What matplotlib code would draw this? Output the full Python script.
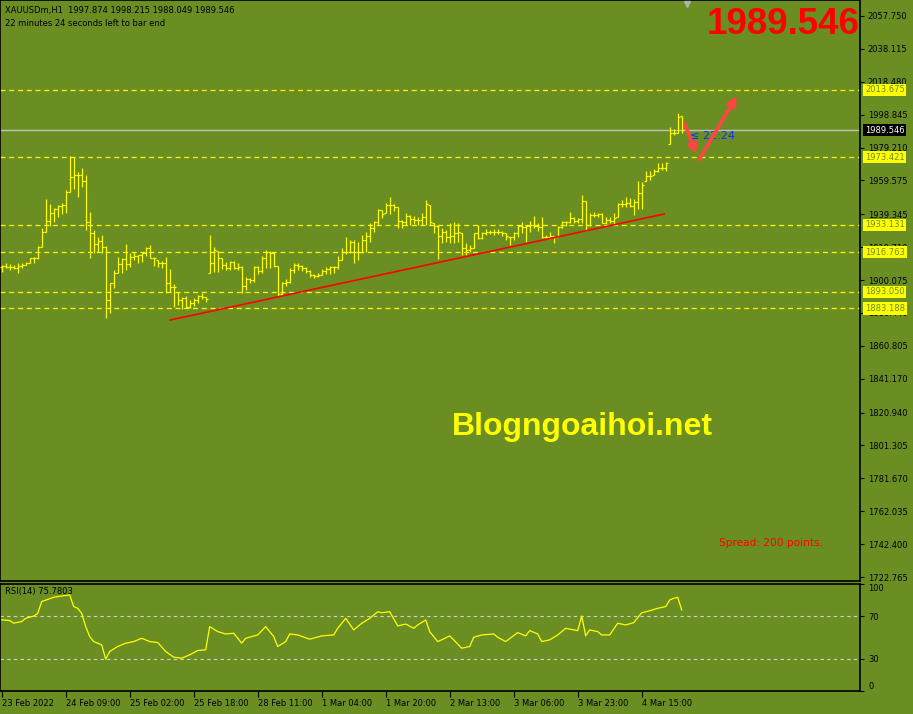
import numpy as np
import matplotlib
matplotlib.use("Agg")
import matplotlib.pyplot as plt
import matplotlib.transforms as mtransforms
from matplotlib.lines import Line2D

# ---------------- data ----------------
symbol_header = "XAUUSDm,H1  1997.874 1998.215 1988.049 1989.546"
timer_header = "22 minutes 24 seconds left to bar end"

first_open = 1908.0
highs = [1909.1, 1910.1, 1909.5, 1909.1, 1910.1, 1910.1, 1911.0, 1913.1, 1913.7, 1920.4,
         1931.0, 1948.3, 1945.5, 1942.9, 1944.9, 1945.9, 1953.9, 1974.2, 1973.4, 1964.8,
         1966.8, 1962.8, 1940.9, 1930.0, 1926.0, 1927.0, 1920.4, 1898.1, 1906.1, 1914.0,
         1913.1, 1921.6, 1916.1, 1917.0, 1915.0, 1916.4, 1920.0, 1921.0, 1914.0, 1912.1,
         1911.6, 1914.0, 1906.5, 1897.7, 1893.1, 1890.1, 1890.6, 1888.2, 1889.2, 1891.2,
         1892.5, 1890.1, 1927.0, 1920.0, 1917.6, 1913.1, 1911.0, 1911.6, 1911.6, 1910.1,
         1908.5, 1902.1, 1901.5, 1908.5, 1908.5, 1914.4, 1918.0, 1917.6, 1916.8, 1908.5,
         1899.1, 1900.5, 1907.1, 1910.4, 1910.4, 1909.1, 1907.7, 1906.1, 1903.7, 1904.5,
         1906.5, 1907.7, 1908.5, 1908.5, 1914.4, 1919.0, 1925.6, 1924.0, 1924.0, 1923.0,
         1927.0, 1929.0, 1934.3, 1935.5, 1942.3, 1941.9, 1946.3, 1949.5, 1945.5, 1943.5,
         1935.9, 1939.9, 1938.9, 1938.3, 1937.6, 1939.9, 1947.9, 1944.9, 1934.0, 1933.0,
         1931.0, 1930.0, 1934.3, 1934.9, 1934.3, 1928.0, 1922.0, 1921.0, 1928.4, 1933.0,
         1929.0, 1930.4, 1930.0, 1930.4, 1930.4, 1929.5, 1928.0, 1926.0, 1929.0, 1932.4,
         1934.9, 1933.0, 1935.5, 1938.3, 1934.3, 1937.6, 1927.0, 1929.0, 1926.4, 1932.4,
         1935.5, 1935.5, 1940.9, 1937.9, 1936.9, 1950.9, 1947.5, 1939.9, 1940.9, 1940.3,
         1939.9, 1937.9, 1937.9, 1939.9, 1945.9, 1947.9, 1949.5, 1948.9, 1948.3, 1959.4,
         1958.8, 1965.4, 1965.4, 1966.2, 1969.8, 1970.2, 1970.7, 1991.3, 1990.1, 2000.0,
         1998.215]
lows = [1905.1, 1907.1, 1906.1, 1906.5, 1904.1, 1907.1, 1909.1, 1910.1, 1910.4, 1912.5,
        1920.0, 1929.0, 1932.4, 1934.9, 1937.6, 1939.5, 1939.9, 1952.8, 1954.3, 1949.9,
        1955.8, 1930.0, 1913.1, 1916.1, 1916.7, 1916.4, 1877.6, 1880.2, 1895.2, 1904.1,
        1904.1, 1906.1, 1908.1, 1912.1, 1910.1, 1911.0, 1914.4, 1913.1, 1908.5, 1908.1,
        1907.1, 1892.5, 1893.1, 1884.2, 1885.2, 1882.6, 1883.2, 1883.2, 1884.6, 1886.2,
        1888.6, 1887.2, 1904.1, 1905.1, 1905.1, 1906.5, 1906.1, 1906.1, 1906.5, 1906.1,
        1892.5, 1894.1, 1898.1, 1899.1, 1903.7, 1904.1, 1907.5, 1907.1, 1907.9, 1890.6,
        1890.6, 1896.5, 1898.1, 1904.5, 1906.1, 1905.7, 1904.5, 1902.1, 1901.1, 1901.7,
        1903.1, 1903.7, 1903.7, 1904.5, 1906.5, 1912.1, 1915.6, 1916.4, 1910.4, 1912.1,
        1916.4, 1917.0, 1923.0, 1929.0, 1933.0, 1937.0, 1939.9, 1939.5, 1941.5, 1931.0,
        1931.0, 1933.0, 1933.0, 1933.5, 1933.0, 1933.0, 1933.0, 1933.0, 1928.0, 1912.5,
        1922.0, 1923.0, 1922.0, 1922.0, 1923.0, 1915.0, 1915.0, 1917.0, 1919.0, 1924.4,
        1924.4, 1927.0, 1927.6, 1927.0, 1927.6, 1926.4, 1924.0, 1921.0, 1924.0, 1925.6,
        1928.0, 1923.0, 1929.0, 1931.0, 1929.5, 1925.0, 1924.4, 1924.4, 1922.4, 1925.6,
        1931.0, 1932.4, 1934.3, 1934.3, 1934.3, 1934.3, 1929.5, 1932.4, 1937.6, 1937.6,
        1934.0, 1933.5, 1934.3, 1933.5, 1937.6, 1943.5, 1943.5, 1943.5, 1938.9, 1942.3,
        1942.3, 1959.4, 1959.8, 1962.8, 1964.8, 1965.8, 1965.4, 1981.3, 1986.7, 1987.7,
        1988.049]
closes = [1908.5, 1908.1, 1908.1, 1907.1, 1908.6, 1909.1, 1910.4, 1913.1, 1913.1, 1920.0,
          1928.6, 1935.3, 1939.9, 1942.5, 1944.5, 1944.9, 1952.8, 1961.4, 1962.8, 1962.8,
          1959.4, 1934.9, 1928.4, 1921.6, 1923.6, 1920.0, 1888.2, 1898.1, 1904.5, 1909.7,
          1912.5, 1909.7, 1914.0, 1914.4, 1915.0, 1916.4, 1919.0, 1913.1, 1913.1, 1910.4,
          1910.1, 1898.5, 1896.1, 1895.7, 1888.2, 1889.2, 1884.2, 1886.6, 1888.2, 1890.6,
          1890.1, 1888.6, 1910.4, 1918.0, 1913.1, 1909.1, 1907.1, 1911.0, 1907.1, 1907.7,
          1896.5, 1900.5, 1900.1, 1907.7, 1905.7, 1913.1, 1917.0, 1916.2, 1908.5, 1891.8,
          1898.1, 1899.1, 1906.1, 1909.1, 1908.5, 1907.1, 1905.7, 1903.1, 1902.5, 1903.1,
          1905.7, 1906.5, 1907.7, 1907.7, 1912.1, 1917.0, 1916.8, 1923.0, 1917.0, 1917.0,
          1924.0, 1926.4, 1931.0, 1934.9, 1941.9, 1939.5, 1944.9, 1944.9, 1943.5, 1935.5,
          1934.9, 1938.3, 1936.4, 1935.9, 1935.9, 1937.9, 1945.5, 1934.9, 1932.4, 1926.4,
          1929.0, 1925.6, 1926.4, 1928.0, 1929.0, 1919.0, 1918.0, 1919.0, 1928.0, 1925.0,
          1928.4, 1929.0, 1929.0, 1929.0, 1929.0, 1928.4, 1926.4, 1925.6, 1928.4, 1932.4,
          1932.0, 1932.4, 1933.0, 1932.4, 1932.0, 1926.0, 1925.6, 1926.4, 1925.6, 1932.0,
          1934.9, 1934.9, 1936.9, 1935.5, 1936.4, 1947.5, 1932.9, 1938.9, 1938.9, 1939.5,
          1934.3, 1935.9, 1935.5, 1936.9, 1945.5, 1945.5, 1946.3, 1944.3, 1946.9, 1951.9,
          1956.8, 1962.2, 1962.2, 1965.4, 1966.8, 1966.8, 1970.2, 1988.1, 1987.7, 1997.6,
          1989.546]
last_open = 1997.874
last_price = 1989.546

level_prices = [2013.675, 1973.421, 1933.131, 1916.763, 1893.050, 1883.188]

price_ticks = [2057.750, 2038.115, 2018.480, 1998.845, 1979.210, 1959.575, 1939.345,
               1919.710, 1900.075, 1880.440, 1860.805, 1841.170, 1820.940, 1801.305,
               1781.670, 1762.035, 1742.400, 1722.765]

trend_bars = [42.1, 165.6]
trend_prices = [1876.2, 1939.5]

arrow_down = [(170.8, 1993.3), (173.6, 1975.3)]
arrow_up = [(174.3, 1971.8), (183.8, 2010.0)]

rsi_bars = [0, 2, 3, 5, 6, 8, 9, 10, 13, 15, 17, 18, 19, 20, 21, 22, 23, 24, 25, 26,
            27, 29, 31, 33, 35, 37, 39, 41, 43, 45, 47, 49, 51, 52, 54, 56, 58, 60, 61, 64,
            66, 68, 69, 71, 72, 74, 77, 80, 83, 84, 86, 88, 90, 92, 94, 95, 97, 99, 101, 103,
            104, 106, 107, 109, 110, 112, 113, 115, 117, 118, 120, 123, 124, 126, 129, 131, 132, 134, 135, 137,
            139, 141, 144, 145, 146, 147, 149, 150, 152, 154, 156, 158, 160, 162, 164, 166, 167, 168, 169, 170]
rsi_vals = [66.5, 65.9, 63.4, 64.9, 68.0, 70.0, 72.5, 83.6, 87.6, 88.8, 89.8, 78.9, 77.3, 72.5, 60.2, 50.9, 46.2, 44.7, 43.1, 29.8,
            36.9, 41.6, 44.7, 46.2, 49.3, 46.2, 45.3, 36.9, 31.6, 30.7, 33.8, 37.8, 38.5, 60.2, 55.5, 53.3, 54.0, 44.7, 49.3, 52.4,
            60.2, 50.9, 41.6, 46.2, 53.3, 52.4, 48.4, 51.5, 52.4, 58.6, 67.9, 57.1, 63.3, 67.9, 74.1, 73.1, 74.1, 60.8, 62.6, 58.6,
            61.7, 66.4, 55.5, 46.2, 47.8, 51.5, 47.8, 40.0, 41.6, 50.2, 52.4, 53.3, 50.2, 46.2, 54.6, 51.5, 56.4, 53.3, 46.2, 47.8,
            52.4, 58.6, 56.4, 70.0, 51.5, 57.1, 55.5, 52.4, 52.4, 63.3, 61.7, 63.9, 73.1, 75.0, 77.3, 78.9, 85.1, 86.6, 87.6, 75.78]
rsi_levels = [30, 70]
rsi_ticks = [100, 70, 30, 0]

time_tick_bars = [0, 16, 32, 48, 64, 80, 96, 112, 128, 144, 160]
time_labels = ["23 Feb 2022", "24 Feb 09:00", "25 Feb 02:00", "25 Feb 18:00", "28 Feb 11:00",
               "1 Mar 04:00", "1 Mar 20:00", "2 Mar 13:00", "3 Mar 06:00", "3 Mar 23:00",
               "4 Mar 15:00"]

assert len(highs) == len(lows) == len(closes)
assert len(rsi_bars) == len(rsi_vals)

# ---------------- style ----------------
BG = "#6B8E23"
YEL = "#FFFF00"
W, H = 913, 714
FONT = "DejaVu Sans"
FS = 6.0
plt.rcParams["font.family"] = [FONT]

def fx(px):
    return px / W

def fy(py):
    return 1 - py / H

fig = plt.figure(figsize=(W / 100, H / 100), dpi=100, facecolor=BG)

# main price pane (pixel rows 0..581)
ax = fig.add_axes([0, fy(581), 860 / W, 581 / H])
ax.set_facecolor(BG)
PX_PER_PRICE = 0.5971
top_price = 2067.3
ax.set_ylim(top_price - 581 * PX_PER_PRICE, top_price)
ax.set_xlim(-0.425, 214.575)
for s in ax.spines.values():
    s.set_color("black")
    s.set_linewidth(1.2)
ax.xaxis.set_visible(False)
ax.yaxis.tick_right()
ax.set_yticks(price_ticks)
ax.set_yticklabels([f"{p:.3f}" for p in price_ticks], fontsize=FS, color="black")
ax.tick_params(axis="y", direction="out", length=3, width=0.8, pad=2.5, colors="black")

n = len(closes)
x = np.arange(n)
opens = [first_open] + [min(max(closes[i - 1], lows[i]), highs[i]) for i in range(1, n)]
opens[-1] = last_open
BLW = 0.85
ax.vlines(x, lows, highs, color=YEL, lw=BLW, zorder=3)
ax.hlines(opens, x - 0.45, x, color=YEL, lw=BLW, zorder=3)
ax.hlines(closes, x, x + 0.45, color=YEL, lw=BLW, zorder=3)

blend = mtransforms.blended_transform_factory(ax.transAxes, ax.transData)
for lv in level_prices:
    ax.axhline(lv, color=YEL, lw=0.9, ls=(0, (4, 3)), zorder=2)
    ax.text(1 + 5 / 860, lv, f"{lv:.3f}", transform=blend, va="center", ha="left",
            fontsize=FS, color="#6B8E23", clip_on=False, zorder=6,
            bbox=dict(boxstyle="square,pad=0.2", fc=YEL, ec="none"))

ax.axhline(last_price, color="#C0C0C0", lw=1.0, zorder=2)
ax.text(1 + 5 / 860, last_price, f"{last_price:.3f}", transform=blend, va="center", ha="left",
        fontsize=FS, color="white", clip_on=False, zorder=6,
        bbox=dict(boxstyle="square,pad=0.2", fc="black", ec="none"))

ax.plot(trend_bars, trend_prices, color="#FF0000", lw=1.2, zorder=4)

ax.text(172.0, 1986.3, "\u2264 22:24", color="#1030FF", fontsize=8, va="center", ha="left", zorder=4)
for (a, b) in (arrow_down, arrow_up):
    ax.annotate("", xy=b, xytext=a, zorder=5,
                arrowprops=dict(arrowstyle="-|>", color="#FF4545", lw=2.6, mutation_scale=13,
                                shrinkA=0, shrinkB=0))

# RSI pane (pixel rows 584..691)
ax2 = fig.add_axes([0, fy(691), 860 / W, 107 / H])
ax2.set_facecolor(BG)
ax2.set_ylim(0, 100)
ax2.set_xlim(-0.425, 214.575)
for s in ax2.spines.values():
    s.set_color("black")
    s.set_linewidth(1.2)
ax2.plot(rsi_bars, rsi_vals, color=YEL, lw=0.9, zorder=3)
for lv in rsi_levels:
    ax2.axhline(lv, color="#D0D0D0", lw=0.8, ls=(0, (3, 3)), zorder=2)
ax2.yaxis.tick_right()
ax2.set_yticks(rsi_ticks)
ax2.set_yticklabels([str(t) for t in rsi_ticks], fontsize=FS, color="black")
labs = ax2.get_yticklabels()
labs[0].set_va("top")
labs[-1].set_va("bottom")
ax2.tick_params(axis="y", direction="out", length=3, width=0.8, pad=3, colors="black")
ax2.set_xticks(time_tick_bars)
ax2.set_xticklabels(time_labels, fontsize=FS, color="black", ha="left")
ax2.tick_params(axis="x", direction="out", length=4, width=0.8, pad=2, colors="black")
ax2.text(0.006, 0.93, "RSI(14) 75.7803", transform=ax2.transAxes, fontsize=FS, color="black",
         va="center", ha="left")

# header & annotations
fig.text(fx(5), fy(10), symbol_header, fontsize=FS, color="black", va="center", ha="left")
fig.text(fx(5), fy(23), timer_header, fontsize=FS, color="black", va="center", ha="left")
fig.text(fx(860), fy(25), f"{last_price:.3f}", fontsize=26.5, fontweight="bold",
         family=["Liberation Sans"], color="#FF0000",
         va="center", ha="right")
fig.text(fx(582), fy(427), "Blogngoaihoi.net", fontsize=23, fontweight="bold",
         family=["Liberation Sans"], color=YEL, va="center", ha="center")
fig.text(fx(719), fy(543), "Spread: 200 points.", fontsize=7.6, color="#FF0000", va="center", ha="left")
fig.add_artist(Line2D([fx(687)], [fy(4)], marker="v", color="#B0B0B0", markersize=5,
                      transform=fig.transFigure))

fig.savefig("out.png", dpi=100, facecolor=BG)
